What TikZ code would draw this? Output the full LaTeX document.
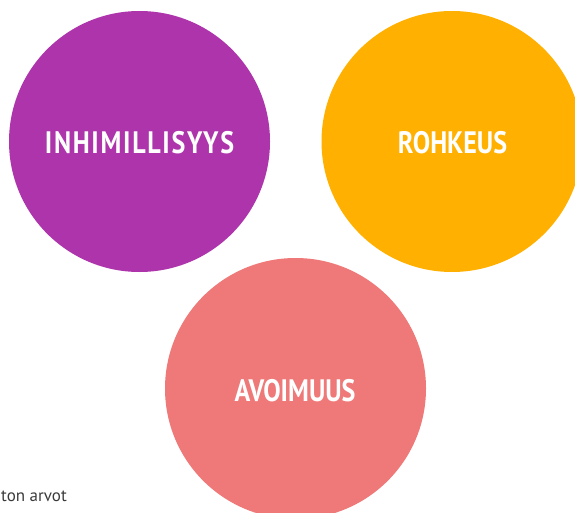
\documentclass[tikz,border=0pt]{standalone}
\usepackage{fontspec}
\setmainfont{PT Sans}
\newfontfamily\titlefont[FakeStretch=0.84]{PT Sans Bold}
\newfontfamily\titlefontwide[FakeStretch=0.84,LetterSpace=5.5]{PT Sans Bold}
\definecolor{cpurple}{HTML}{AE34AC}
\definecolor{corange}{HTML}{FFB000}
\definecolor{cpink}{HTML}{EF7878}
\definecolor{cgray}{HTML}{3A3A3A}
\begin{document}
\begin{tikzpicture}[x=1pt,y=-1pt,
  valuecircle/.style={circle,minimum size=261pt,inner sep=0pt},
  valuelabel/.style={text=white,font=\titlefont\fontsize{31}{31}\selectfont,inner sep=0pt,anchor=center}]
\useasboundingbox (0,0) rectangle (575,513);
\clip (0,0) rectangle (575,513);
\node[valuecircle,fill=cpurple] (purple) at (139.5,141.5) {};
\node[valuecircle,fill=corange] (orange) at (452,141.5) {};
\node[valuecircle,fill=cpink] (pink) at (295.5,388.5) {};
\node[valuelabel,font=\titlefontwide\fontsize{31}{31}\selectfont] (l1) at (139.5,143) {INHIMILLISYYS};
\node[valuelabel] (l2) at (452.5,143) {ROHKEUS};
\node[valuelabel] (l3) at (295,391) {AVOIMUUS};
\node[anchor=base west,inner sep=0pt,text=cgray,font=\fontsize{17}{17}\selectfont] (cap) at (1,501) {ton arvot};
\end{tikzpicture}
\end{document}
